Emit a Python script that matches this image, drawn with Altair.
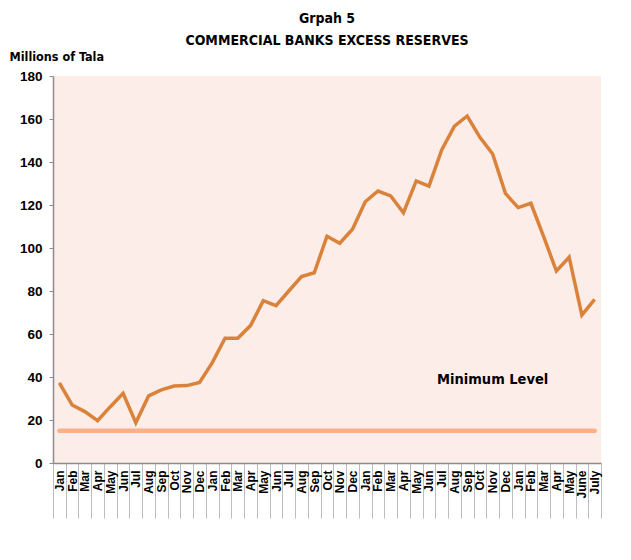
import altair as alt
import pandas as pd

months = ["Jan", "Feb", "Mar", "Apr", "May", "Jun", "Jul", "Aug", "Sep", "Oct", "Nov", "Dec",
          "Jan", "Feb", "Mar", "Apr", "May", "Jun", "Jul", "Aug", "Sep", "Oct", "Nov", "Dec",
          "Jan", "Feb", "Mar", "Apr", "May", "Jun", "Jul", "Aug", "Sep", "Oct", "Nov", "Dec",
          "Jan", "Feb", "Mar", "Apr", "May", "June", "July"]

reserves = [37.3, 27.0, 23.9, 19.7, 26.2, 32.4, 18.7, 31.2, 34.0, 35.8, 36.0, 37.5,
            46.7, 58.0, 58.0, 63.9, 75.5, 73.2, 80.0, 86.7, 88.5, 105.5, 102.2, 108.7,
            121.5, 126.5, 124.2, 116.4, 131.2, 128.8, 145.6, 156.7, 161.4, 151.5, 143.7, 125.4,
            118.8, 120.8, 105.3, 89.3, 95.7, 68.8, 76.1]

minimum_level = 15

keys = [f"{i:02d}_{m}" for i, m in enumerate(months)]
df = pd.DataFrame({"key": keys, "reserves": reserves, "minimum": [minimum_level] * len(keys)})

label_df = pd.DataFrame({"key": [keys[34]], "y": [38.5], "text": ["Minimum Level"]})

FONT = "DejaVu Sans Condensed, Liberation Sans, sans-serif"
SANS = "Liberation Sans, Arial, sans-serif"

x_enc = alt.X(
    "key:N",
    sort=keys,
    scale=alt.Scale(paddingInner=0, paddingOuter=0),
    axis=alt.Axis(
        title=None,
        labelAngle=-90,
        labelExpr="split(datum.value, '_')[1]",
        labelFont=SANS,
        labelFontWeight="bold",
        labelFontSize=12,
        labelColor="#000000",
        tickBand="extent",
        tickSize=55,
        tickColor="#BDBDBD",
        labelPadding=-48,
        domainColor="#8C8C8C",
        domainWidth=1.5,
        labelOverlap=False,
    ),
)

y_axis = alt.Axis(
    title="Millions of Tala",
    titleAngle=0,
    titleAlign="left",
    titleBaseline="alphabetic",
    titleX=-44,
    titleY=-16,
    titleFont=FONT,
    titleFontSize=12.5,
    titleFontWeight="bold",
    titleColor="#000000",
    values=list(range(0, 181, 20)),
    labelFont=SANS,
    labelFontSize=13.5,
    labelFontWeight="bold",
    labelColor="#000000",
    labelPadding=7,
    tickSize=4,
    tickColor="#8C8C8C",
    domainColor="#8C8C8C",
    domainWidth=1.5,
    grid=False,
)

base = alt.Chart(df)

min_line = base.mark_line(color="#F8B088", strokeWidth=4.5, strokeCap="round").encode(
    x=x_enc,
    y=alt.Y("minimum:Q", scale=alt.Scale(domain=[0, 180], nice=False), axis=y_axis),
)

main_line = base.mark_line(color="#DB823A", strokeWidth=3.5, strokeJoin="miter").encode(
    x=alt.X("key:N", sort=keys),
    y=alt.Y("reserves:Q"),
)

label = alt.Chart(label_df).mark_text(
    font=FONT, fontSize=14.5, fontWeight="bold", color="#000000", align="center", baseline="middle"
).encode(
    x=alt.X("key:N", sort=keys),
    y=alt.Y("y:Q"),
    text="text:N",
)

chart = alt.layer(min_line, main_line, label).properties(
    width=548,
    height=387,
    title=alt.Title(
        ["Grpah 5", "COMMERCIAL BANKS EXCESS RESERVES"],
        font=FONT,
        fontSize=14,
        fontWeight="bold",
        color="#000000",
        anchor="middle",
        frame="group",
        lineHeight=22,
        offset=2,
    ),
    autosize=alt.AutoSizeParams(type="none"),
    padding={"left": 45, "top": 68, "right": 22, "bottom": 80},
    background="#FFFFFF",
).configure_view(fill="#FCEDE8", stroke=None)

chart.save("out.html", embed_options={"renderer": "svg", "actions": False})
